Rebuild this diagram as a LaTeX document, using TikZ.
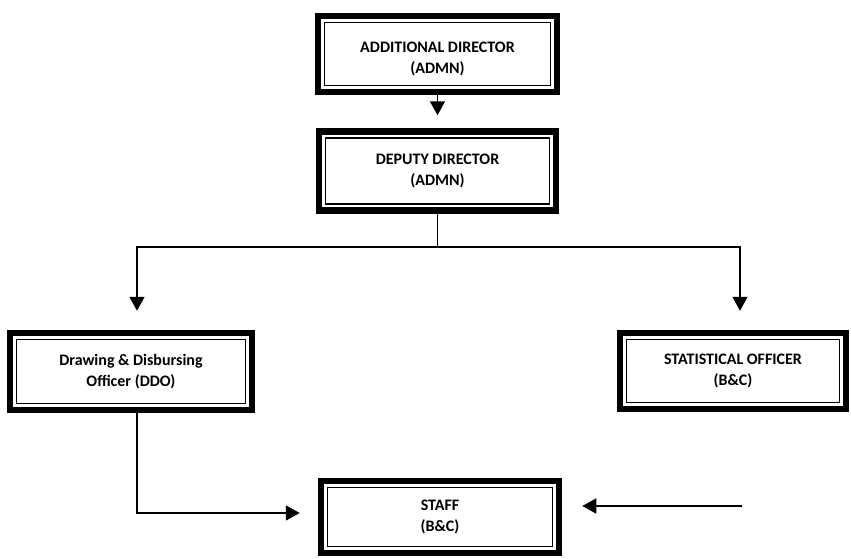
\documentclass[tikz,border=0pt]{standalone}
\usepackage{fontspec}
\setmainfont{Carlito}
\usetikzlibrary{positioning,arrows.meta}

\begin{document}
\begin{tikzpicture}[
        x = 1pt,
        y = -1pt,
        post/.style={
            % The shape
            rectangle,
            minimum width = 238pt,
            minimum height = 77pt,
            inner sep = 0pt,
            % The border
            line width = 6.5pt,
            draw = black,
            % The inner frame
            path picture={
                \draw[line width=1.7pt]
                    ([shift={(6.5pt,-6.5pt)}]path picture bounding box.north west)
                    rectangle
                    ([shift={(-6.5pt,6.5pt)}]path picture bounding box.south east);
            },
            % Font
            font = \bfseries\fontsize{16}{21}\selectfont,
            align = center
        },
        arrow/.style={
            % The line
            line width = 1.7pt,
            % The tip
            -{Triangle[width=15pt,length=14pt]},
            shorten >= 19pt
        },
    ]
        \useasboundingbox (0,0) rectangle (851,558);

        \node (addlDirector) [post,minimum width=239pt,minimum height=76pt] at (437.5,54) {\rule{0pt}{20pt}ADDITIONAL DIRECTOR \\ (ADMN)};

        \node (deputyDirector) [post,minimum width=237pt,minimum height=79pt,below=33pt of addlDirector] {DEPUTY DIRECTOR \\ (ADMN)};
        \path (addlDirector) edge[arrow,shorten >=13pt] (deputyDirector);

        \node (ddo) [post,minimum width=242pt] at (131,371.5) {Drawing \& Disbursing \\ Officer (DDO)};
        \draw[arrow] (deputyDirector.south) -- ++(0,33) -| ([xshift=6pt]ddo.north);

        \node (statOfficer) [post,minimum width=226pt,minimum height=76pt] at (733,371) {STATISTICAL OFFICER \\ (B\&C)};
        \draw[arrow] (deputyDirector.south) -- ++(0,33) -| ([xshift=7pt]statOfficer.north);

        \node (staff) [post,minimum height=72pt] at (440,517) {STAFF \\ (B\&C)};
        \draw[arrow,shorten >=18pt] ([xshift=6pt]ddo.south) |- ([yshift=4pt]staff.west);

        \coordinate (staffFeed) at (742,506);
        \draw[arrow,shorten >=20pt] (staffFeed) -- (staffFeed -| staff.east);

    \end{tikzpicture}
\end{document}
